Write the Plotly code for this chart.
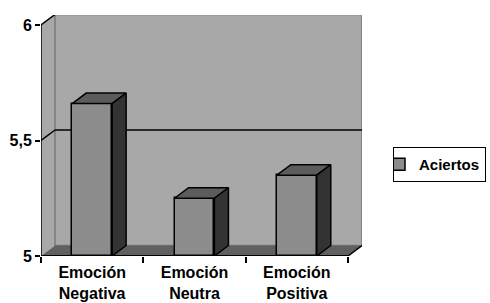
import plotly.graph_objects as go

# ---- data ----
categories = ["Emoción<br>Negativa", "Emoción<br>Neutra", "Emoción<br>Positiva"]
aciertos = [5.66, 5.25, 5.35]
y_tick_values = [5, 5.5, 6]
y_tick_labels = ["5", "5,5", "6"]
series_name = "Aciertos"

# ---- geometry / style ----
BASE = 5.0
TOP = 6.0
X0, X1 = -0.5, 2.637
Y0, Y1 = 5.0, 6.0433
DX, DY = 0.1368, 0.0455   # 3-D depth offset in data units
BW = 0.39                  # bar width
FONT = "Liberation Sans, Arial, sans-serif"

n = len(categories)
xpos = list(range(n))
XE = n - 0.5

fig = go.Figure()

# front faces of the columns
fig.add_trace(go.Bar(
    x=xpos, y=[v - BASE for v in aciertos], base=BASE, width=BW,
    name=series_name, showlegend=True,
    marker=dict(color="#8c8c8c", line=dict(color="black", width=1.5)),
))

# top and side faces computed from the values
top_x, top_y, side_x, side_y = [], [], [], []
for xi, v in zip(xpos, aciertos):
    l, r = xi - BW / 2, xi + BW / 2
    top_x += [l, r, r + DX, l + DX, l, None]
    top_y += [v, v, v + DY, v + DY, v, None]
    side_x += [r, r, r + DX, r + DX, r, None]
    side_y += [BASE, v, v + DY, BASE + DY, BASE, None]

fig.add_trace(go.Scatter(x=top_x, y=top_y, mode="lines", fill="toself",
                         fillcolor="#5c5c5c", line=dict(color="black", width=1.5),
                         showlegend=False, hoverinfo="skip"))
fig.add_trace(go.Scatter(x=side_x, y=side_y, mode="lines", fill="toself",
                         fillcolor="#333333", line=dict(color="black", width=1.5),
                         showlegend=False, hoverinfo="skip"))

shapes = []
# left wall
shapes.append(dict(type="path", layer="below", xref="x", yref="y",
                   path=f"M {X0},{BASE} L {X0},{TOP} L {X0+DX},{TOP+DY} L {X0+DX},{BASE+DY} Z",
                   fillcolor="#a8a8a8", line=dict(width=0)))
# back wall
shapes.append(dict(type="rect", layer="below", xref="x", yref="y",
                   x0=X0 + DX, y0=BASE + DY, x1=X1, y1=TOP + DY,
                   fillcolor="#a8a8a8", line=dict(color="#7a7a7a", width=1.5)))
# floor
shapes.append(dict(type="path", layer="below", xref="x", yref="y",
                   path=f"M {X0},{BASE} L {XE},{BASE} L {XE+DX},{BASE+DY} L {X0+DX},{BASE+DY} Z",
                   fillcolor="#606060", line=dict(width=0)))
# gridlines on back wall + diagonals on left wall
for t in y_tick_values[1:]:
    shapes.append(dict(type="line", layer="below", xref="x", yref="y",
                       x0=X0, y0=t, x1=X0 + DX, y1=t + DY,
                       line=dict(color="black", width=1.5)))
for t in y_tick_values[1:-1]:
    shapes.append(dict(type="line", layer="below", xref="x", yref="y",
                       x0=X0 + DX, y0=t + DY, x1=X1, y1=t + DY,
                       line=dict(color="black", width=1.5)))
# axis lines
shapes.append(dict(type="line", layer="below", xref="x", yref="y",
                   x0=X0, y0=BASE, x1=X0, y1=TOP, line=dict(color="black", width=1.5)))
shapes.append(dict(type="line", layer="below", xref="x", yref="y",
                   x0=X0, y0=BASE, x1=XE, y1=BASE, line=dict(color="black", width=2)))
shapes.append(dict(type="line", layer="below", xref="x", yref="y",
                   x0=XE, y0=BASE, x1=XE + DX, y1=BASE + DY, line=dict(color="black", width=1.5)))

fig.update_layout(
    width=490, height=303,
    margin=dict(l=41, r=128, t=15, b=47, autoexpand=False),
    paper_bgcolor="white", plot_bgcolor="white",
    shapes=shapes,
    bargap=0,
    xaxis=dict(range=[X0, X1], tickmode="array", tickvals=xpos, ticktext=categories,
               ticks="", showgrid=False, zeroline=False, showline=False,
               tickfont=dict(family=FONT, size=16, color="black", weight="bold"),
               ticklabelstandoff=5, automargin=False,
               minor=dict(tickmode="array", tickvals=[i - 0.5 for i in range(n + 1)],
                          ticks="outside", ticklen=6, tickwidth=1.5, tickcolor="black",
                          showgrid=False)),
    yaxis=dict(range=[Y0, Y1], tickmode="array", tickvals=y_tick_values, ticktext=y_tick_labels,
               ticks="outside", ticklen=5, tickwidth=1.5, tickcolor="black",
               showgrid=False, zeroline=False, showline=False, automargin=False,
               tickfont=dict(family=FONT, size=16, color="black", weight="bold")),
    legend=dict(x=1.0966, y=0.452, xanchor="left", yanchor="top",
                bordercolor="black", borderwidth=1, bgcolor="white",
                font=dict(family=FONT, size=15, color="black", weight="bold"),
                itemwidth=30, indentation=-15, tracegroupgap=0),
    showlegend=True,
)

fig.write_html("out.html", config={"displayModeBar": False},
               post_script="document.body.style.margin='0';document.body.style.padding='0';")
